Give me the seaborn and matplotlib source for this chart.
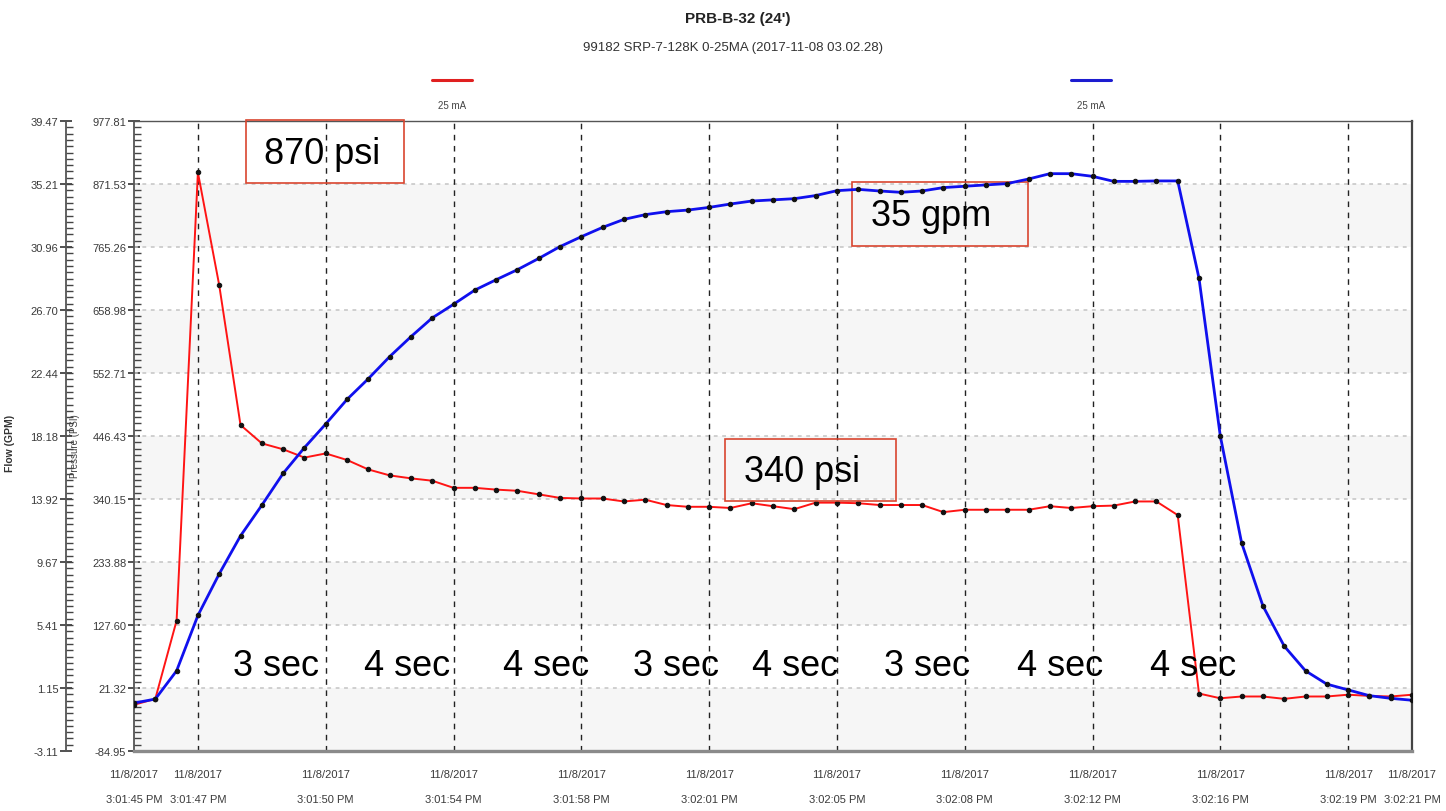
import numpy as np
import pandas as pd
import matplotlib
matplotlib.use("Agg")
import matplotlib.pyplot as plt
import seaborn as sns
from matplotlib.ticker import FixedLocator
from matplotlib.patches import Rectangle
from matplotlib.lines import Line2D

# ---------------- data ----------------
sample = list(range(61))  # one sample every ~0.6 s
pressure_psi = [-7, 3, 135, 891, 701, 465, 434, 424, 410, 417,
                406, 390, 380, 375, 371, 359, 359, 356, 354, 348,
                342, 341, 341, 336, 339, 330, 327, 327, 325, 333,
                328, 323, 334, 334, 333, 330, 330, 330, 318, 322,
                322, 322, 322, 328, 325, 328, 329, 336, 336, 313,
                12, 4, 7, 7, 3, 7, 7, 10, 8, 7, 10]
flow_gpm = [0.13, 0.40, 2.31, 6.05, 8.86, 11.43, 13.50, 15.65, 17.39, 18.99,
            20.65, 22.05, 23.54, 24.89, 26.16, 27.08, 28.04, 28.74, 29.42, 30.18,
            30.98, 31.65, 32.28, 32.82, 33.14, 33.34, 33.45, 33.63, 33.86, 34.06,
            34.14, 34.22, 34.43, 34.76, 34.85, 34.74, 34.65, 34.74, 34.97, 35.06,
            35.15, 35.24, 35.55, 35.91, 35.91, 35.73, 35.39, 35.39, 35.42, 35.42,
            28.84, 18.18, 10.96, 6.70, 3.98, 2.31, 1.41, 1.02, 0.63, 0.45, 0.32]

x_tick_samples = [0, 3, 9, 15, 21, 27, 33, 39, 45, 51, 57, 60]
x_tick_times = ["3:01:45 PM", "3:01:47 PM", "3:01:50 PM", "3:01:54 PM", "3:01:58 PM",
                "3:02:01 PM", "3:02:05 PM", "3:02:08 PM", "3:02:12 PM", "3:02:16 PM",
                "3:02:19 PM", "3:02:21 PM"]
x_tick_date = "11/8/2017"

pressure_ticks = [-84.95, 21.32, 127.60, 233.88, 340.15, 446.43, 552.71, 658.98, 765.26, 871.53, 977.81]
pressure_tick_labels = ["-84.95", "21.32", "127.60", "233.88", "340.15", "446.43",
                        "552.71", "658.98", "765.26", "871.53", "977.81"]
flow_ticks = [-3.11, 1.15, 5.41, 9.67, 13.92, 18.18, 22.44, 26.70, 30.96, 35.21, 39.47]
flow_tick_labels = ["-3.11", "1.15", "5.41", "9.67", "13.92", "18.18", "22.44",
                    "26.70", "30.96", "35.21", "39.47"]

sec_labels = ["3 sec", "4 sec", "4 sec", "3 sec", "4 sec", "3 sec", "4 sec", "4 sec"]
sec_left_px = [233, 364, 503, 633, 752, 884, 1017, 1150]

title = "PRB-B-32 (24')"
subtitle = "99182 SRP-7-128K 0-25MA (2017-11-08 03.02.28)"
legend_label = "25 mA"

df = pd.DataFrame({"sample": sample, "pressure": pressure_psi, "flow": flow_gpm})

# ---------------- style ----------------
sns.set_style("white")
plt.rcParams["font.family"] = ["Liberation Sans", "DejaVu Sans"]
tick_color = "#3a3a3a"
tick_fs = 8

W, H = 1446, 812
fig = plt.figure(figsize=(W / 100, H / 100), dpi=100)
L, R, T, B = 134, 1412, 122, 752
ax = fig.add_axes([L / W, 1 - B / H, (R - L) / W, (B - T) / H])
ax2 = ax.twinx()

def axx(px):
    return (px - L) / (R - L)

def axy(py):
    return (B - py) / (B - T)

# background bands + grid
p_lo, p_hi = pressure_ticks[0], pressure_ticks[-1]
for i in range(len(pressure_ticks) - 1):
    if i % 2 == 0:
        ax.axhspan(pressure_ticks[i], pressure_ticks[i + 1], color="#f6f6f6", zorder=0, lw=0)
for v in pressure_ticks[1:-1]:
    ax.axhline(v, color="#c4c4c4", lw=1.1, ls=(0, (2.5, 3)), zorder=1)
for s in x_tick_samples[1:-1]:
    ax.axvline(s, color="#222222", lw=1.0, ls=(0, (4, 4)), zorder=1)

# lines
sns.lineplot(data=df, x="sample", y="pressure", ax=ax, color="#ff1414", lw=1.4,
             marker="o", markersize=3.2, markerfacecolor="#111111",
             markeredgecolor="#111111", estimator=None, zorder=3)
sns.lineplot(data=df, x="sample", y="flow", ax=ax2, color="#1010ee", lw=2.0,
             marker="o", markersize=3.2, markerfacecolor="#111111",
             markeredgecolor="#111111", estimator=None, zorder=3)

ax.set_xlim(0, 60)
ax.set_ylim(p_lo, p_hi)
ax2.set_ylim(flow_ticks[0], flow_ticks[-1])

# pressure axis (inner left)
ax.yaxis.set_major_locator(FixedLocator(pressure_ticks))
ax.set_yticklabels(pressure_tick_labels)
ax.yaxis.set_minor_locator(FixedLocator(np.linspace(p_lo, p_hi, 101)))
ax.tick_params(axis="y", which="major", direction="inout", length=9, width=1.2,
               color="#333333", labelsize=tick_fs, labelcolor=tick_color, pad=1)
ax.tick_params(axis="y", which="minor", direction="in", length=5, width=1.0, color="#444444")
ax.set_ylabel("Pressure (PSI)", fontsize=7, color="#444444")
ax.yaxis.set_label_coords(axx(80), axy(446))

# flow axis (outer left)
ax2.yaxis.tick_left()
ax2.yaxis.set_label_position("left")
ax2.spines["left"].set_position(("axes", axx(66)))
ax2.spines["left"].set_visible(True)
ax2.spines["left"].set_color("#555555")
ax2.spines["left"].set_linewidth(1.3)
for sp in ["right", "top", "bottom"]:
    ax2.spines[sp].set_visible(False)
ax2.yaxis.set_major_locator(FixedLocator(flow_ticks))
ax2.set_yticklabels(flow_tick_labels)
ax2.yaxis.set_minor_locator(FixedLocator(np.linspace(flow_ticks[0], flow_ticks[-1], 101)))
ax2.tick_params(axis="y", which="major", direction="inout", length=9, width=1.2,
                color="#333333", labelsize=tick_fs, labelcolor=tick_color, pad=1)
ax2.tick_params(axis="y", which="minor", direction="in", length=5, width=1.0, color="#444444")
ax2.set_ylabel("Flow (GPM)", fontsize=7.5, fontweight="bold", color="#333333")
ax2.yaxis.set_label_coords(axx(15), axy(443))
ax2.set_xlabel("")

# x axis
ax.set_xticks(x_tick_samples)
ax.set_xticklabels([f"{x_tick_date}\n{t}" for t in x_tick_times],
                   fontsize=tick_fs, color=tick_color, linespacing=2.9)
ax.tick_params(axis="x", which="major", direction="in", length=8, width=1.0,
               color="#333333", pad=13)
ax.set_xlabel("")

# spines
ax.spines["left"].set_color("#555555")
ax.spines["left"].set_linewidth(1.3)
ax.spines["bottom"].set_color("#8a8a8a")
ax.spines["bottom"].set_linewidth(2.4)
ax.spines["right"].set_color("#444444")
ax.spines["right"].set_linewidth(1.6)
ax.spines["top"].set_color("#555555")
ax.spines["top"].set_linewidth(1.0)

# annotation boxes
def box(x0, y0, x1, y1, text, tx):
    ax.add_patch(Rectangle((axx(x0), axy(y1)), axx(x1) - axx(x0), axy(y0) - axy(y1),
                           transform=ax.transAxes, fill=False, edgecolor="#d9452f",
                           lw=1.2, clip_on=False, zorder=5))
    ax.text(axx(tx), axy((y0 + y1) / 2 + 2), text, transform=ax.transAxes, fontsize=26,
            ha="left", va="center", color="black", zorder=6)

box(246, 121, 404, 184, "870 psi", 264)
box(852, 183, 1028, 247, "35 gpm", 871)
box(725, 440, 896, 502, "340 psi", 744)

for lab, px in zip(sec_labels, sec_left_px):
    ax.text(axx(px), axy(667), lab, transform=ax.transAxes, fontsize=26,
            ha="left", va="center", color="black", zorder=6)

# titles
fig.text(738 / W, 1 - 19 / H, title, ha="center", va="center", fontsize=11,
         fontweight="bold", color="#222222")
fig.text(733 / W, 1 - 48 / H, subtitle, ha="center", va="center", fontsize=9.5,
         color="#333333")

# legend
for x0, col in [(432, "#e02020"), (1071, "#1c1cd0")]:
    fig.add_artist(Line2D([x0 / W, (x0 + 40) / W], [1 - 81 / H] * 2, color=col, lw=2.2))
    fig.text((x0 + 20) / W, 1 - 106 / H, legend_label, ha="center", va="center",
             fontsize=7, color="#444444")

fig.savefig("out.png", dpi=100)
